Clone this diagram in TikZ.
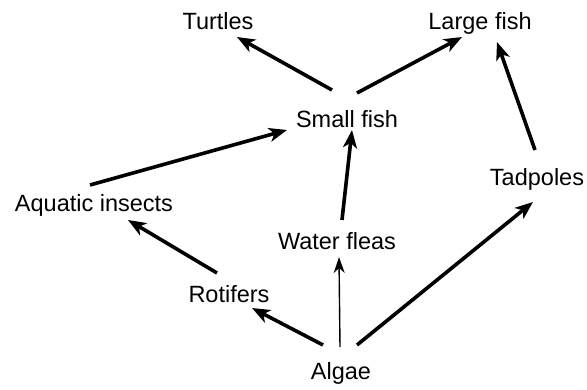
\documentclass[tikz,border=0pt]{standalone}
\usepackage{fontspec}
\setmainfont{Liberation Sans}
\usetikzlibrary{positioning,arrows.meta}

\begin{document}
\begin{tikzpicture}[x=1pt, y=1pt,
  taxon/.style={inner sep=0pt, text height=17pt, text depth=0pt, font=\fontsize{23.5}{28}\selectfont},
  eats/.style={-{Stealth[length=18pt,width=14pt,inset=5pt]}, line width=3.6pt},
  thin eats/.style={-{Stealth[length=16pt,width=11pt,inset=5pt]}, line width=1.4pt}]
\useasboundingbox (0,0) rectangle (587,389);
\node[taxon] (tu) at (218,368) {Turtles};
\node[taxon] (lf) at (480,368) {Large fish};
\node[taxon] (sf) at (347,270) {Small fish};
\node[taxon] (tp) at (537,212) {Tadpoles};
\node[taxon] (ai) at (94,186) {Aquatic insects};
\node[taxon] (wf) at (337,148) {Water fleas};
\node[taxon] (ro) at (229,95) {Rotifers};
\node[taxon] (al) at (341,18) {Algae};
\foreach \a/\sx/\sy/\b/\tx/\ty in {sf/-15/29/tu/19/-16, sf/10/26/lf/-18/-16, tp/-2/27/lf/17/-21,
    ai/-4/18/sf/-60/-11, wf/5/21/sf/5/-11, ro/-12/21/ai/34/-17, al/-18/26/ro/23/-14, al/16/26/tp/-4/-25}
  \draw[eats] ([shift={(\sx,\sy)}]\a.center) -- ([shift={(\tx,\ty)}]\b.center);
\draw[thin eats] ([shift={(-1,24)}]al.center) -- ([shift={(2,-16)}]wf.center);
\end{tikzpicture}
\end{document}
